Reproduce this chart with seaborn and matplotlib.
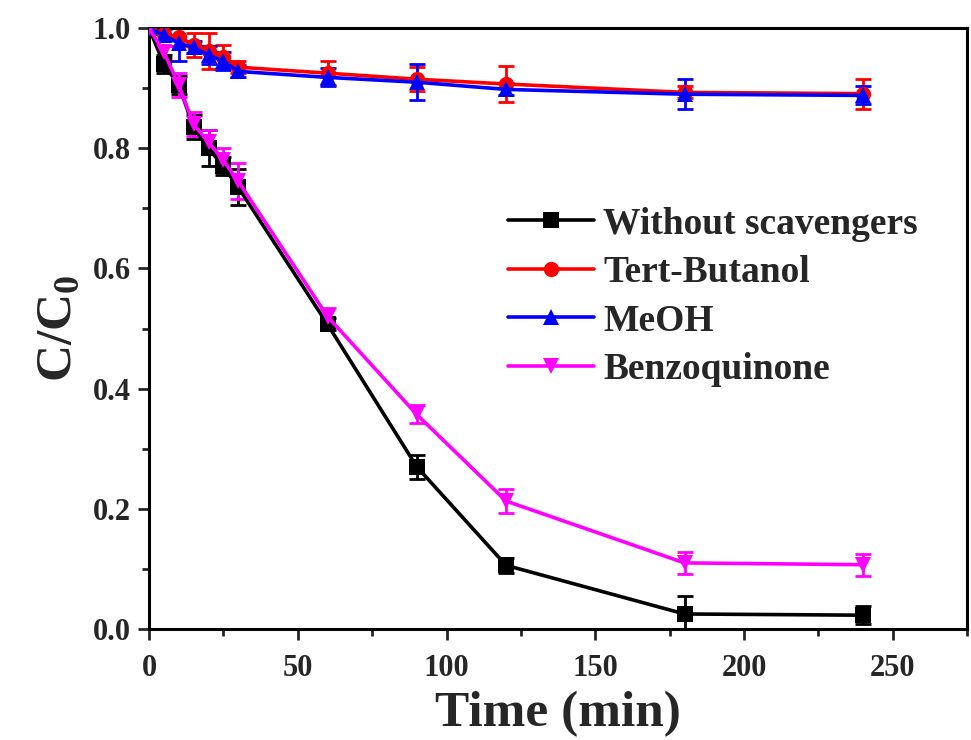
import numpy as np
import pandas as pd
import matplotlib
matplotlib.use("Agg")
import matplotlib.pyplot as plt
import seaborn as sns
from matplotlib.ticker import MultipleLocator, FormatStrFormatter

# Sampling times (min)
time = [0, 5, 10, 15, 20, 25, 30, 60, 90, 120, 180, 240]

# C/C0 for each condition
without_scav = [1.0, 0.94, 0.905, 0.835, 0.80, 0.77, 0.735, 0.507, 0.27, 0.106, 0.025, 0.023]
tert_butanol = [1.0, 0.99, 0.985, 0.972, 0.962, 0.952, 0.935, 0.925, 0.915, 0.907, 0.893, 0.891]
meoh         = [1.0, 0.988, 0.975, 0.968, 0.955, 0.945, 0.928, 0.918, 0.910, 0.898, 0.890, 0.888]
benzoquinone = [1.0, 0.96, 0.905, 0.840, 0.810, 0.780, 0.745, 0.520, 0.357, 0.213, 0.110, 0.107]

# Standard deviations
without_err = [0.0, 0.015, 0.015, 0.02, 0.03, 0.015, 0.03, 0.01, 0.02, 0.012, 0.03, 0.015]
tert_err    = [0.0, 0.01, 0.015, 0.02, 0.03, 0.02, 0.01, 0.02, 0.02, 0.03, 0.01, 0.025]
meoh_err    = [0.0, 0.01, 0.03, 0.01, 0.015, 0.015, 0.01, 0.015, 0.03, 0.01, 0.025, 0.015]
benzo_err   = [0.0, 0.01, 0.02, 0.02, 0.02, 0.02, 0.03, 0.015, 0.015, 0.02, 0.018, 0.018]

labels = ["Without scavengers", "Tert-Butanol", "MeOH", "Benzoquinone"]
colors = ["#000000", "#ff0000", "#0000ff", "#ff00ff"]
markers = ["s", "o", "^", "v"]

series = [without_scav, tert_butanol, meoh, benzoquinone]
errors = [without_err, tert_err, meoh_err, benzo_err]

df = pd.concat(
    [pd.DataFrame({"Time": time, "C": vals, "err": err, "Condition": lab})
     for vals, err, lab in zip(series, errors, labels)],
    ignore_index=True,
)

sns.set_style("ticks")
plt.rcParams["font.family"] = ["Liberation Serif", "DejaVu Serif"]
plt.rcParams["font.weight"] = "bold"
plt.rcParams["mathtext.fontset"] = "custom"
plt.rcParams["mathtext.rm"] = "Liberation Serif:bold"
plt.rcParams["mathtext.bf"] = "Liberation Serif:bold"

fig = plt.figure(figsize=(9.71, 7.40), dpi=100)
ax = fig.add_axes([0.1535, 0.150, 0.8425, 0.812])

# error bars first, beneath the lines
for lab, col in zip(labels, colors):
    sub = df[df["Condition"] == lab]
    ax.errorbar(sub["Time"], sub["C"], yerr=sub["err"], fmt="none",
                ecolor=col, elinewidth=2, capsize=6, capthick=2, zorder=2)

sns.lineplot(data=df, x="Time", y="C", hue="Condition", style="Condition",
             hue_order=labels, style_order=labels,
             palette=dict(zip(labels, colors)),
             markers=dict(zip(labels, markers)), dashes=False,
             markersize=11, markeredgewidth=0, linewidth=2.6,
             ax=ax, zorder=3, legend=True)

ax.set_xlim(0, 275)
ax.set_ylim(0, 1.0)
ax.xaxis.set_major_locator(MultipleLocator(50))
ax.xaxis.set_minor_locator(MultipleLocator(25))
ax.yaxis.set_major_locator(MultipleLocator(0.2))
ax.yaxis.set_minor_locator(MultipleLocator(0.1))
ax.yaxis.set_major_formatter(FormatStrFormatter("%.1f"))

for side in ["left", "right", "top", "bottom"]:
    ax.spines[side].set_linewidth(2.2)
    ax.spines[side].set_color("black")

ax.tick_params(axis="both", which="major", direction="out", length=8, width=2,
               labelsize=22, pad=5)
ax.tick_params(axis="x", which="major", pad=10)
ax.tick_params(axis="both", which="minor", direction="out", length=5, width=2)
for t in ax.get_xticklabels() + ax.get_yticklabels():
    t.set_fontweight("bold")

ax.set_xlabel("Time (min)", fontsize=37, fontweight="bold", labelpad=6)
ax.set_ylabel(r"C/C$_\mathregular{0}$", fontsize=37, fontweight="bold", labelpad=8)

leg = ax.legend(loc="upper left", bbox_to_anchor=(0.42, 0.728), frameon=False,
                prop={"family": "Liberation Serif", "weight": "bold", "size": 27},
                handlelength=2.3, handletextpad=0.25, labelspacing=0.36,
                borderaxespad=0)
for h in leg.legend_handles:
    h.set_linewidth(2.6)

fig.savefig("out.png", dpi=100)
